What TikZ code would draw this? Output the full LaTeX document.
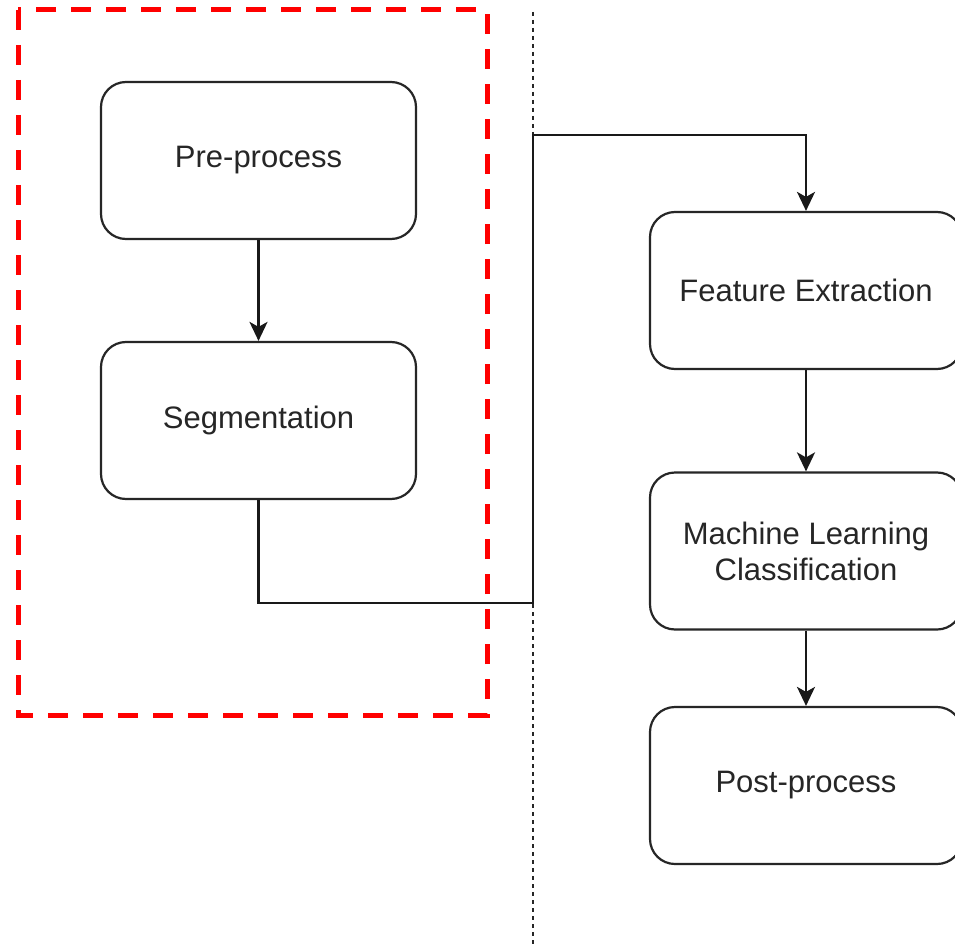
\documentclass[tikz,border=0pt]{standalone}
\usepackage{fontspec}
\setmainfont{Liberation Sans}
\usetikzlibrary{arrows.meta}
\begin{document}
\begin{tikzpicture}[x=1pt,y=-1pt,
  procbox/.style={draw=black!85, line width=2.2pt, rounded corners=25pt, fill=white,
    minimum width=315pt, minimum height=157pt, align=center, inner sep=0pt,
    font=\fontsize{31}{36}\selectfont, text=black!85},
  conn/.style={draw=black!90, line width=2.6pt, -{Stealth[length=19pt,width=18pt,inset=5pt]}},
  divider/.style={draw=black!85, line width=2.4pt, dash pattern=on 4pt off 4pt},
  groupbox/.style={draw=red, line width=5pt, dash pattern=on 20pt off 15pt}
]
\useasboundingbox (0,0) rectangle (955,944);
\fill[white] (0,0) rectangle (955,944);
% divider
\coordinate (dtop) at (533,12);
\coordinate (dbot) at (533,944);
\draw[divider] (dtop) -- (dbot);
% group box
\draw[groupbox] (18,10) rectangle (487,715);
% nodes
\node[procbox] (pre) at (258.5,160.5) {Pre-process};
\node[procbox] (seg) at (258.5,420.5) {Segmentation};
\node[procbox, minimum width=312pt] (fe) at (806,290.5) {Feature Extraction};
\node[procbox, minimum width=312pt] (ml) at (806,551) {Machine Learning\\Classification};
\node[procbox, minimum width=312pt] (post) at (806,785.5) {Post-process};
% connectors
\coordinate (c1) at (533,603);
\coordinate (c2) at (533,135);
\draw[conn] (pre) -- (seg);
\draw[conn] (seg.south) |- (c1) -- (c2) -| (fe.north);
\draw[conn] (fe) -- (ml);
\draw[conn] (ml) -- (post);
\end{tikzpicture}
\end{document}
